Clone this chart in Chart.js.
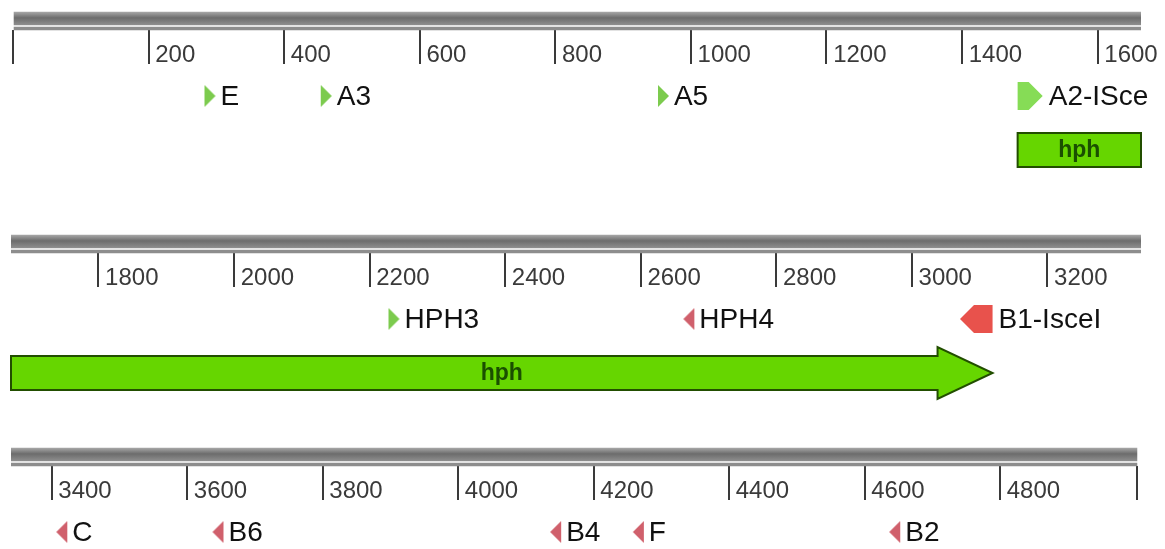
<!DOCTYPE html>
<html>
<head>
<meta charset="utf-8">
<title>Sequence map</title>
<script src="https://cdn.jsdelivr.net/npm/chart.js@4.4.1/dist/chart.umd.min.js"></script>
<style>
  html, body { margin: 0; padding: 0; background: #ffffff; }
  canvas { display: block; }
</style>
</head>
<body>
<canvas id="seqmap" width="1165" height="549"></canvas>
<script>
// ---- Sequence data (bp) ----
const sequenceLength = 5002;

// Each display row shows one slice of the sequence
const rowFrom = [-3, 1671, 3340];
const rowTo   = [1664, 3338, 5008];

// Ruler ticks and their labels, per row
const row1Ticks = [0, 200, 400, 600, 800, 1000, 1200, 1400, 1600];
const row1TickLabels = ['', '200', '400', '600', '800', '1000', '1200', '1400', '1600'];
const row2Ticks = [1800, 2000, 2200, 2400, 2600, 2800, 3000, 3200];
const row2TickLabels = ['1800', '2000', '2200', '2400', '2600', '2800', '3000', '3200'];
const row3Ticks = [3400, 3600, 3800, 4000, 4200, 4400, 4600, 4800, 5002];
const row3TickLabels = ['3400', '3600', '3800', '4000', '4200', '4400', '4600', '4800', ''];

// Primers (strand 1 = forward, -1 = reverse)
const primerNames  = ['E', 'A3', 'A5', 'HPH3', 'HPH4', 'C', 'B6', 'B4', 'F', 'B2'];
const primerStart  = [283, 452, 950, 2227, 2662, 3408, 3638, 4134, 4258, 4635];
const primerEnd    = [298, 472, 969, 2245, 2680, 3422, 3653, 4154, 4274, 4654];
const primerStrand = [1, 1, 1, 1, -1, -1, -1, -1, -1, -1];

// Annotated features
const featureNames  = ['A2-ISce', 'B1-IsceI', 'hph'];
const featureStart  = [1482, 3071, 1482];
const featureEnd    = [1519, 3119, 3119];
const featureStrand = [1, -1, 1];
const featureKind   = ['site', 'site', 'gene'];

// ---- Layout: vertical lanes in y-scale units ----
const ROW_TOP = [12, 235, 448];
const LANE = { band: 6.5, line: 16.5, ruler: 18, primer: 84, gene: 138 };

const FONT = "'Liberation Sans', Arial, Helvetica, sans-serif";
const STYLE = {
  fwdPrimer: '#7ccb4e', revPrimer: '#d0606c',
  fwdSite: '#86dc56', revSite: '#e8524c',
  geneFill: '#66d600', geneEdge: '#224e00', geneText: '#1a4f00',
  label: '#111111', tick: '#3a3a3a', line: '#8d8d8d'
};
const SHAPES = {
  site: { half: 14, headHalf: 14, head: 14 },
  gene: { half: 17, headHalf: 26, head: 55 }
};

const rowTicks = [row1Ticks, row2Ticks, row3Ticks];
const rowTickLabels = [row1TickLabels, row2TickLabels, row3TickLabels];

// Small arrow glyphs used as point styles for primers
function primerGlyph(dir, color) {
  const c = document.createElement('canvas');
  c.width = 13; c.height = 24;
  const g = c.getContext('2d');
  g.fillStyle = color;
  g.beginPath();
  if (dir > 0) { g.moveTo(1, 1); g.lineTo(12, 12); g.lineTo(1, 23); }
  else { g.moveTo(12, 1); g.lineTo(1, 12); g.lineTo(12, 23); }
  g.closePath();
  g.fill();
  return c;
}
const fwdGlyph = primerGlyph(1, STYLE.fwdPrimer);
const revGlyph = primerGlyph(-1, STYLE.revPrimer);

function bandGradient(c) {
  const chart = c.chart;
  if (!chart.chartArea || !c.raw) return '#7a7a7a';
  const yc = chart.scales.y.getPixelForValue(c.raw.y);
  const g = chart.ctx.createLinearGradient(0, yc - 6.5, 0, yc + 6.5);
  g.addColorStop(0, '#a6a6a6');
  g.addColorStop(0.45, '#6c6c6c');
  g.addColorStop(1, '#8e8e8e');
  return g;
}

// ---- Datasets ----
const datasets = [];
for (let r = 0; r < 3; r++) {
  const xId = 'x' + (r + 1);
  const from = Math.max(rowFrom[r], 0);
  const to = Math.min(rowTo[r], sequenceLength);
  datasets.push({
    type: 'bar', label: 'backbone', xAxisID: xId, yAxisID: 'y', indexAxis: 'y',
    grouped: false, barThickness: 13, borderWidth: 0,
    data: [{ x: [from, to], y: ROW_TOP[r] + LANE.band }],
    backgroundColor: bandGradient
  });
  datasets.push({
    type: 'bar', label: 'backbone line', xAxisID: xId, yAxisID: 'y', indexAxis: 'y',
    grouped: false, barThickness: 3, borderWidth: 0,
    data: [{ x: [from, to], y: ROW_TOP[r] + LANE.line }],
    backgroundColor: STYLE.line
  });
  const pts = [];
  primerNames.forEach((n, i) => {
    const mid = (primerStart[i] + primerEnd[i]) / 2;
    if (mid >= rowFrom[r] && mid < rowTo[r]) pts.push({ x: mid, y: ROW_TOP[r] + LANE.primer, i });
  });
  datasets.push({
    type: 'scatter', label: 'primers', xAxisID: xId, yAxisID: 'y',
    data: pts, pointRadius: 6,
    pointStyle: c => (c.raw && primerStrand[c.raw.i] < 0) ? revGlyph : fwdGlyph
  });
}

// ---- Ruler axes ----
function rulerAxis(r) {
  const ticks = rowTicks[r], labels = rowTickLabels[r];
  return {
    type: 'linear', min: rowFrom[r], max: rowTo[r],
    position: { y: ROW_TOP[r] + LANE.ruler },
    afterBuildTicks: s => { s.ticks = ticks.map(v => ({ value: v })); },
    afterFit: s => { s.paddingLeft = 0; s.paddingRight = 0; },
    grid: { drawOnChartArea: false, drawTicks: true, tickLength: 34,
            tickColor: STYLE.tick, tickWidth: 2, color: STYLE.tick, lineWidth: 2 },
    border: { display: false },
    ticks: {
      autoSkip: false, maxRotation: 0, minRotation: 0, align: 'start', padding: -23,
      color: STYLE.tick, font: { family: FONT, size: 24 },
      callback: (v, idx) => labels[idx] ? ' ' + labels[idx] : ''
    }
  };
}

// ---- Feature arrows and labels ----
function arrowPath(ctx, x0, x1, yc, shape, dir, withHead) {
  const h = shape.half, hh = shape.headHalf;
  const head = withHead ? Math.min(shape.head, Math.abs(x1 - x0)) : 0;
  ctx.beginPath();
  if (dir > 0) {
    const xh = x1 - head;
    ctx.moveTo(x0, yc - h); ctx.lineTo(xh, yc - h);
    if (head) { ctx.lineTo(xh, yc - hh); ctx.lineTo(x1, yc); ctx.lineTo(xh, yc + hh); }
    else { ctx.lineTo(x1, yc - h); ctx.lineTo(x1, yc + h); }
    ctx.lineTo(xh, yc + h); ctx.lineTo(x0, yc + h);
  } else {
    const xh = x0 + head;
    ctx.moveTo(x1, yc - h); ctx.lineTo(xh, yc - h);
    if (head) { ctx.lineTo(xh, yc - hh); ctx.lineTo(x0, yc); ctx.lineTo(xh, yc + hh); }
    else { ctx.lineTo(x0, yc - h); ctx.lineTo(x0, yc + h); }
    ctx.lineTo(xh, yc + h); ctx.lineTo(x1, yc + h);
  }
  ctx.closePath();
}

const featureTrack = {
  id: 'featureTrack',
  afterDatasetsDraw(chart) {
    const ctx = chart.ctx, ys = chart.scales.y;
    ctx.save();
    for (let r = 0; r < 3; r++) {
      const xs = chart.scales['x' + (r + 1)];
      featureNames.forEach((name, i) => {
        const s = featureStart[i], e = featureEnd[i];
        const a = Math.max(s, rowFrom[r]), b = Math.min(e, rowTo[r]);
        if (a >= b) return;
        const x0 = xs.getPixelForValue(a), x1 = xs.getPixelForValue(b);
        const dir = featureStrand[i];
        const withHead = dir > 0 ? e <= rowTo[r] : s >= rowFrom[r];
        if (featureKind[i] === 'gene') {
          const yc = ys.getPixelForValue(ROW_TOP[r] + LANE.gene);
          arrowPath(ctx, x0, x1, yc, SHAPES.gene, dir, withHead);
          ctx.fillStyle = STYLE.geneFill; ctx.fill();
          ctx.lineWidth = 2; ctx.strokeStyle = STYLE.geneEdge; ctx.lineJoin = 'miter'; ctx.stroke();
          ctx.fillStyle = STYLE.geneText;
          ctx.font = 'bold 23px ' + FONT;
          ctx.textAlign = 'center'; ctx.textBaseline = 'middle';
          ctx.fillText(name, (x0 + x1) / 2, yc + 1);
        } else {
          const yc = ys.getPixelForValue(ROW_TOP[r] + LANE.primer);
          arrowPath(ctx, x0, x1, yc, SHAPES.site, dir, withHead);
          ctx.fillStyle = dir > 0 ? STYLE.fwdSite : STYLE.revSite; ctx.fill();
          ctx.fillStyle = STYLE.label;
          ctx.font = '28px ' + FONT;
          ctx.textAlign = 'left'; ctx.textBaseline = 'middle';
          ctx.fillText(name, x1 + 6, yc + 1);
        }
      });
      // primer names beside their arrows
      const meta = chart.getDatasetMeta(r * 3 + 2);
      meta.data.forEach((pt, k) => {
        const i = meta._dataset.data[k].i;
        ctx.fillStyle = STYLE.label;
        ctx.font = '28px ' + FONT;
        ctx.textAlign = 'left'; ctx.textBaseline = 'middle';
        ctx.fillText(primerNames[i], pt.x + 10.5, pt.y + 1);
      });
    }
    ctx.restore();
  }
};

new Chart(document.getElementById('seqmap'), {
  type: 'scatter',
  data: { datasets },
  options: {
    responsive: false,
    animation: false,
    events: [],
    layout: { padding: { left: 11, right: 24, top: 0, bottom: 0 }, autoPadding: false },
    plugins: { legend: { display: false }, tooltip: { enabled: false } },
    scales: {
      y: { type: 'linear', display: false, min: 0, max: 549, reverse: true, offset: false },
      x1: rulerAxis(0),
      x2: rulerAxis(1),
      x3: rulerAxis(2)
    }
  },
  plugins: [featureTrack]
});
</script>
</body>
</html>
